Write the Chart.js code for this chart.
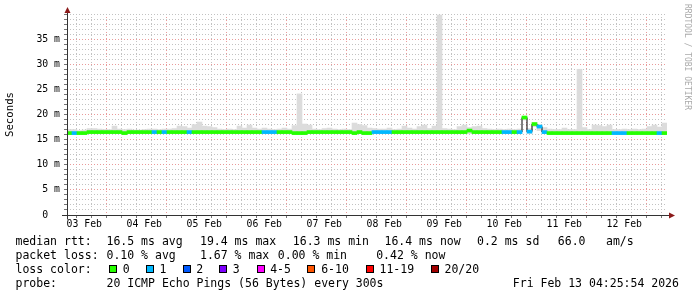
<!DOCTYPE html>
<html>
<head>
<meta charset="utf-8">
<script src="https://cdn.jsdelivr.net/npm/chart.js@4.4.1/dist/chart.umd.min.js"></script>
<style>
  html, body { margin: 0; padding: 0; background: #fff; }
  #wrap { position: relative; width: 697px; height: 297px; overflow: hidden; background: #fff; }
  #chart { position: absolute; left: 0; top: 0; }
  .lg { position: absolute; font-family: "DejaVu Sans Mono", monospace; font-size: 11.5px; line-height: 14px; color: #000; white-space: pre; }
  .sw { position: absolute; width: 8px; height: 8px; box-sizing: border-box; border: 1px solid #000; top: 265px; }
  #wm { position: absolute; left: 683px; top: 4px; writing-mode: vertical-rl; font-family: "DejaVu Sans Mono", monospace; font-size: 8px; line-height: 9px; color: #aaa; white-space: pre; }
</style>
</head>
<body>
<div id="wrap">
  <canvas id="chart" width="697" height="297"></canvas>
  <div id="wm">RRDTOOL / TOBI OETIKER</div>

  <span class="lg" style="left:15.5px;top:234px">median rtt:</span>
  <span class="lg" style="left:106.5px;top:234px">16.5 ms avg</span>
  <span class="lg" style="left:200px;top:234px">19.4 ms max</span>
  <span class="lg" style="left:292.8px;top:234px">16.3 ms min</span>
  <span class="lg" style="left:384.5px;top:234px">16.4 ms now</span>
  <span class="lg" style="left:477px;top:234px">0.2 ms sd</span>
  <span class="lg" style="left:557.8px;top:234px">66.0</span>
  <span class="lg" style="left:606px;top:234px">am/s</span>

  <span class="lg" style="left:15.5px;top:248px">packet loss:</span>
  <span class="lg" style="left:106.5px;top:248px">0.10 % avg</span>
  <span class="lg" style="left:200px;top:248px">1.67 % max</span>
  <span class="lg" style="left:277.8px;top:248px">0.00 % min</span>
  <span class="lg" style="left:376.2px;top:248px">0.42 % now</span>

  <span class="lg" style="left:15.5px;top:262px">loss color:</span>
  <div id="losskey"></div>

  <span class="lg" style="left:15.5px;top:276px">probe:</span>
  <span class="lg" style="left:106.5px;top:276px">20 ICMP Echo Pings (56 Bytes) every 300s</span>
  <span class="lg" style="left:512.8px;top:276px">Fri Feb 13 04:25:54 2026</span>
</div>
<script>
// x axis in hours after 03 Feb 00:00, one slot = 2 hours
const xStart = 5.08;
const xEnd = 245.08;
const slotHours = 2;

// top of the smoke (ms)
const smokeHigh = [
  17.0, 17.0, 16.8, 16.9, 17.2, 17.2, 17.1, 17.0, 17.0, 17.7,
  17.1, 17.0, 17.1, 16.9, 16.9, 17.0, 17.1, 17.1, 17.0, 17.1,
  17.1, 17.2, 17.7, 17.6, 17.3, 18.0, 18.5, 17.7, 17.6, 17.4,
  17.1, 17.0, 17.1, 17.0, 17.7, 17.3, 17.9, 17.3, 17.1, 17.3,
  17.1, 17.0, 17.1, 17.3, 17.1, 17.8, 24.1, 18.1, 17.9, 17.1,
  17.0, 17.2, 17.3, 17.1, 17.0, 17.1, 17.0, 18.3, 18.0, 17.8,
  17.3, 17.2, 17.1, 17.1, 17.3, 17.0, 17.1, 17.7, 17.3, 17.1,
  17.6, 17.9, 17.2, 17.7, 39.8, 17.2, 17.1, 17.0, 17.6, 17.9,
  17.4, 17.6, 17.7, 17.2, 17.1, 17.0, 17.1, 17.0, 17.1, 17.0,
  17.1, 19.6, 17.2, 18.3, 17.9, 17.4, 17.1, 17.0, 17.0, 17.3,
  17.0, 17.0, 29.0, 17.4, 17.0, 17.9, 17.8, 17.6, 17.9, 17.0,
  17.0, 17.1, 17.0, 17.1, 17.0, 17.1, 17.6, 17.9, 17.5, 18.3
];

// bottom of the smoke (ms)
const smokeLow = [
  16.2, 16.2, 16.2, 16.2, 16.2, 16.2, 16.2, 16.2, 16.2, 16.2,
  16.2, 16.2, 16.2, 16.2, 16.2, 16.2, 16.2, 16.2, 16.2, 16.2,
  16.2, 16.2, 16.2, 16.2, 16.2, 16.2, 16.2, 16.2, 16.2, 16.2,
  16.2, 16.2, 16.2, 16.2, 16.2, 16.2, 16.2, 16.2, 16.2, 16.2,
  16.2, 16.2, 16.2, 16.2, 16.2, 16.2, 16.2, 16.2, 16.2, 16.2,
  16.2, 16.2, 16.2, 16.2, 16.2, 16.2, 16.2, 16.2, 16.2, 16.2,
  16.2, 16.2, 16.2, 16.2, 16.2, 16.2, 16.2, 16.2, 16.2, 16.2,
  16.2, 16.2, 16.2, 16.2, 16.2, 16.2, 16.2, 16.2, 16.2, 16.2,
  16.2, 16.2, 16.2, 16.2, 16.2, 16.2, 16.2, 16.2, 16.2, 16.2,
  16.2, 18.9, 16.2, 17.6, 16.8, 16.2, 16.2, 16.2, 16.2, 16.2,
  16.2, 16.2, 16.2, 16.2, 16.2, 16.2, 16.2, 16.2, 16.2, 16.2,
  16.2, 16.2, 16.2, 16.2, 16.2, 16.2, 16.2, 16.2, 16.2, 16.2
];

// median rtt (ms)
const medianRtt = [
  16.3, 16.3, 16.3, 16.3, 16.5, 16.5, 16.5, 16.5, 16.5, 16.5,
  16.5, 16.3, 16.5, 16.5, 16.5, 16.5, 16.5, 16.5, 16.5, 16.5,
  16.5, 16.5, 16.5, 16.5, 16.5, 16.5, 16.5, 16.5, 16.5, 16.5,
  16.5, 16.5, 16.5, 16.5, 16.5, 16.5, 16.5, 16.5, 16.5, 16.5,
  16.5, 16.5, 16.5, 16.5, 16.5, 16.3, 16.3, 16.3, 16.5, 16.5,
  16.5, 16.5, 16.5, 16.5, 16.5, 16.5, 16.5, 16.3, 16.5, 16.3,
  16.3, 16.5, 16.5, 16.5, 16.5, 16.5, 16.5, 16.5, 16.5, 16.5,
  16.5, 16.5, 16.5, 16.5, 16.5, 16.5, 16.5, 16.5, 16.5, 16.5,
  16.8, 16.5, 16.5, 16.5, 16.5, 16.5, 16.5, 16.5, 16.5, 16.5,
  16.5, 19.4, 16.6, 18.1, 17.6, 16.5, 16.3, 16.3, 16.3, 16.3,
  16.3, 16.3, 16.3, 16.3, 16.3, 16.3, 16.3, 16.3, 16.3, 16.3,
  16.3, 16.3, 16.3, 16.3, 16.3, 16.3, 16.3, 16.3, 16.3, 16.3
];

// lost pings out of 20
const lossCount = [
  0, 1, 0, 0, 0, 0, 0, 0, 0, 0,
  0, 0, 0, 0, 0, 0, 0, 1, 0, 1,
  0, 0, 0, 0, 1, 0, 0, 0, 0, 0,
  0, 0, 0, 0, 0, 0, 0, 0, 0, 1,
  1, 1, 0, 0, 0, 0, 0, 0, 0, 0,
  0, 0, 0, 0, 0, 0, 0, 0, 0, 0,
  0, 1, 1, 1, 1, 0, 0, 0, 0, 0,
  0, 0, 0, 0, 0, 0, 0, 0, 0, 0,
  0, 0, 0, 0, 0, 0, 0, 1, 1, 0,
  1, 0, 1, 0, 1, 1, 0, 0, 0, 0,
  0, 0, 0, 0, 0, 0, 0, 0, 0, 1,
  1, 1, 0, 0, 0, 0, 0, 0, 1, 0
];

const lossLabels = ['0', '1', '2', '3', '4-5', '6-10', '11-19', '20/20'];
const lossMaxCount = [0, 1, 2, 3, 5, 10, 19, 20];
const lossColors = ['#26ff00', '#00b8ff', '#0059ff', '#7e00ff', '#ff00ff', '#ff5500', '#ff0000', '#a10000'];
const lossSwatchX = [109, 146, 182.7, 219.3, 256.7, 307.3, 365.7, 430.7];
const lossLabelX = [122.8, 159.5, 196.2, 232.8, 270.2, 321.2, 379.5, 444.5];

const dayLabels = ['03 Feb', '04 Feb', '05 Feb', '06 Feb', '07 Feb', '08 Feb', '09 Feb', '10 Feb', '11 Feb', '12 Feb'];
const yLabelValues = [0, 5, 10, 15, 20, 25, 30, 35];
const yLabelTexts = [' 0  ', ' 5 m', '10 m', '15 m', '20 m', '25 m', '30 m', '35 m'];

const gridGrey = '#c2c2c2';
const gridRed = '#e99a9a';
const fontName = 'DejaVu Sans Mono';

// loss key in the legend
const key = document.getElementById('losskey');
lossLabels.forEach((lbl, i) => {
    const sw = document.createElement('div');
    sw.className = 'sw';
    sw.style.left = lossSwatchX[i] + 'px';
    sw.style.background = lossColors[i];
    key.appendChild(sw);
    const t = document.createElement('span');
    t.className = 'lg';
    t.style.left = lossLabelX[i] + 'px';
    t.style.top = '262px';
    t.textContent = lbl;
    key.appendChild(t);
});

function slotCenter(i) {
    return xStart + slotHours * (i + 0.5);
}

function lossColor(n) {
    const k = lossMaxCount.findIndex(m => n <= m);
    return lossColors[k < 0 ? lossColors.length - 1 : k];
}

const smokeData = smokeHigh.map((h, i) => ({ x: slotCenter(i), y: [smokeLow[i], h] }));
const medianBars = medianRtt.map((m, i) => ({ x: slotCenter(i), y: [m - 0.3, m + 0.3] }));
const medianLine = medianRtt.map((m, i) => ({ x: slotCenter(i), y: m }));
const medianColors = lossCount.map(lossColor);

// grid tick positions: every 6 h on x, every 1 ms on y
const xTicks = [];
for (let h = Math.ceil(xStart / 6) * 6; h <= xEnd; h += 6) xTicks.push(h);
const yTicks = [];
for (let v = 0; v <= 40; v++) yTicks.push(v);

// axis lines and the two arrows, drawn over the plot like rrdtool does
const axisArrows = {
    id: 'axisArrows',
    afterDraw(chart) {
        const c = chart.ctx;
        const a = chart.chartArea;
        const x0 = Math.round(a.left) + 0.5;
        const y0 = Math.round(a.bottom) + 0.5;
        c.save();
        c.strokeStyle = '#333';
        c.lineWidth = 1;
        c.beginPath();
        c.moveTo(x0, a.top - 1);
        c.lineTo(x0, y0 + 4);
        c.moveTo(a.left - 5, y0);
        c.lineTo(a.right + 3, y0);
        c.stroke();
        c.fillStyle = '#8b1a1a';
        c.beginPath();
        c.moveTo(x0, a.top - 7);
        c.lineTo(x0 - 3, a.top - 1);
        c.lineTo(x0 + 3, a.top - 1);
        c.closePath();
        c.fill();
        c.beginPath();
        c.moveTo(a.right + 8, y0);
        c.lineTo(a.right + 2, y0 - 3);
        c.lineTo(a.right + 2, y0 + 3);
        c.closePath();
        c.fill();
        c.restore();
    }
};

const ctx = document.getElementById('chart').getContext('2d');
const rttChart = new Chart(ctx, {
    type: 'bar',
    data: {
        datasets: [
            {
                type: 'bar',
                data: medianBars,
                backgroundColor: medianColors,
                grouped: false,
                barPercentage: 1,
                categoryPercentage: 1,
                borderWidth: 0,
                order: 1
            },
            {
                type: 'line',
                data: medianLine,
                borderColor: '#000000',
                borderWidth: 1,
                stepped: 'middle',
                pointRadius: 0,
                fill: false,
                order: 2
            },
            {
                type: 'bar',
                data: smokeData,
                backgroundColor: '#dcdcdc',
                grouped: false,
                barPercentage: 1,
                categoryPercentage: 1,
                borderWidth: 0,
                order: 3
            }
        ]
    },
    options: {
        responsive: false,
        animation: false,
        events: [],
        layout: { padding: { left: 0, right: 30, top: 14, bottom: 0 } },
        plugins: {
            legend: { display: false },
            tooltip: { enabled: false }
        },
        scales: {
            x: {
                type: 'linear',
                min: xStart,
                max: xEnd,
                offset: false,
                afterFit: function(s) { s.height = 82; },
                afterBuildTicks: function(s) { s.ticks = xTicks.map(v => ({ value: v })); },
                ticks: {
                    autoSkip: false,
                    maxRotation: 0,
                    minRotation: 0,
                    padding: 1,
                    color: '#000',
                    font: { family: fontName, size: 9.8 },
                    callback: function(v) {
                        return v % 24 === 12 ? dayLabels[(v - 12) / 24] : '';
                    }
                },
                grid: {
                    color: c => (c.tick && c.tick.value % 24 === 0) ? gridRed : gridGrey,
                    lineWidth: 1,
                    tickLength: 3,
                    tickColor: '#777',
                    tickBorderDash: []
                },
                border: { display: false, dash: [1, 2] }
            },
            y: {
                min: 0,
                max: 40,
                afterFit: function(s) { s.width = 67; },
                afterBuildTicks: function(s) { s.ticks = yTicks.map(v => ({ value: v })); },
                ticks: {
                    autoSkip: false,
                    padding: 4,
                    color: '#000',
                    font: { family: fontName, size: 9.8 },
                    callback: function(v) {
                        const k = yLabelValues.indexOf(v);
                        return k < 0 ? '' : yLabelTexts[k];
                    }
                },
                grid: {
                    color: c => (c.tick && c.tick.value % 5 === 0 && c.tick.value > 0 && c.tick.value < 40) ? gridRed : gridGrey,
                    lineWidth: 1,
                    tickLength: 3,
                    tickColor: '#777',
                    tickBorderDash: []
                },
                border: { display: false, dash: [1, 2] },
                title: {
                    display: true,
                    text: 'Seconds',
                    color: '#000',
                    font: { family: fontName, size: 10.7 },
                    padding: { top: 3.6, bottom: 0 }
                }
            }
        }
    },
    plugins: [axisArrows]
});
</script>
</body>
</html>
